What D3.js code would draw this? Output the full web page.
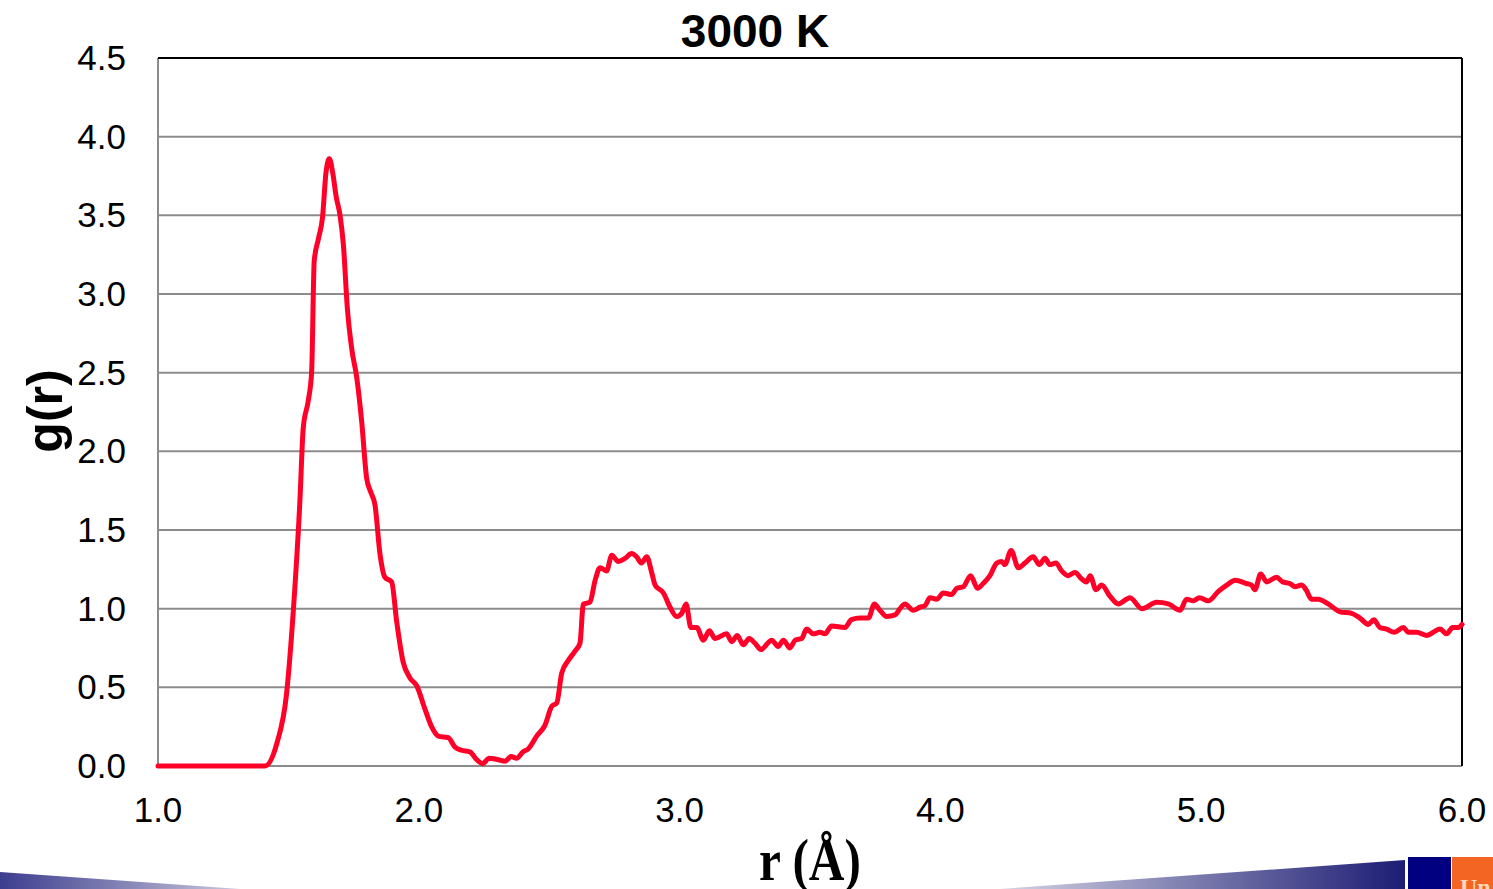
<!DOCTYPE html>
<html>
<head>
  <meta charset="UTF-8">
  <title>g(r) 3000 K</title>
  <script src="https://d3js.org/d3.v7.min.js"></script>
  <style>
    body {
      margin: 0;
      background: #fff;
      font-family: Arial, "Liberation Sans", sans-serif;
    }
    .grid line {
      stroke: #8c8c8c;
      stroke-width: 2;
    }
    .tick-label {
      font-size: 35px;
      fill: #000;
    }
    .curve {
      fill: none;
      stroke: #ff0028;
      stroke-width: 5;
      stroke-linejoin: round;
      stroke-linecap: round;
    }
  </style>
</head>
<body>
  <svg id="chart" width="1493" height="889"></svg>
  <script>
    // r (Å) and g(r)
    const rValues = [
      1.00, 1.41, 1.455, 1.493, 1.519, 1.544, 1.557, 1.576, 1.589, 1.599,
      1.615, 1.631, 1.644, 1.657, 1.670, 1.683, 1.698, 1.711, 1.726, 1.743,
      1.762, 1.781, 1.800, 1.816, 1.832, 1.851, 1.870, 1.896, 1.915, 1.940,
      1.966, 1.992, 2.024, 2.049, 2.075, 2.113, 2.139, 2.164, 2.196, 2.222,
      2.245, 2.270, 2.305, 2.331, 2.354, 2.375, 2.400, 2.420, 2.452, 2.484,
      2.510, 2.529, 2.548, 2.573, 2.599, 2.618, 2.631, 2.656, 2.676, 2.695,
      2.720, 2.740, 2.765, 2.791, 2.816, 2.835, 2.854, 2.874, 2.893, 2.906,
      2.938, 2.963, 2.989, 3.008, 3.025, 3.043, 3.066, 3.091, 3.114, 3.136,
      3.180, 3.200, 3.221, 3.244, 3.267, 3.289, 3.312, 3.353, 3.378, 3.398,
      3.423, 3.443, 3.468, 3.487, 3.513, 3.538, 3.557, 3.583, 3.634, 3.659,
      3.692, 3.724, 3.747, 3.768, 3.794, 3.826, 3.845, 3.864, 3.896, 3.922,
      3.941, 3.960, 3.986, 4.011, 4.043, 4.063, 4.088, 4.116, 4.142, 4.164,
      4.190, 4.216, 4.235, 4.247, 4.271, 4.299, 4.324, 4.356, 4.379, 4.401,
      4.420, 4.443, 4.465, 4.490, 4.516, 4.541, 4.560, 4.574, 4.597, 4.618,
      4.650, 4.682, 4.727, 4.772, 4.829, 4.874, 4.919, 4.944, 4.970, 4.993,
      5.027, 5.066, 5.098, 5.130, 5.174, 5.193, 5.206, 5.228, 5.251, 5.289,
      5.312, 5.340, 5.360, 5.385, 5.402, 5.423, 5.449, 5.487, 5.532, 5.577,
      5.609, 5.641, 5.662, 5.685, 5.711, 5.740, 5.775, 5.794, 5.826, 5.864,
      5.890, 5.916, 5.941, 5.964, 5.986, 6.000
    ];
    const gValues = [
      0.00, 0.00, 0.14, 0.46, 0.99, 1.68, 2.15, 2.32, 2.50, 3.21,
      3.35, 3.49, 3.77, 3.86, 3.77, 3.62, 3.50, 3.31, 2.91, 2.65,
      2.47, 2.19, 1.83, 1.74, 1.66, 1.35, 1.20, 1.17, 0.92, 0.66,
      0.56, 0.51, 0.36, 0.25, 0.19, 0.18, 0.12, 0.10, 0.09, 0.04,
      0.015, 0.05, 0.04, 0.03, 0.06, 0.05, 0.09, 0.11, 0.19, 0.26,
      0.38, 0.40, 0.59, 0.67, 0.73, 0.78, 1.03, 1.04, 1.18, 1.26,
      1.24, 1.34, 1.30, 1.32, 1.35, 1.33, 1.29, 1.33, 1.23, 1.15,
      1.10, 1.01, 0.95, 0.97, 1.03, 0.88, 0.88, 0.80, 0.86, 0.81,
      0.84, 0.79, 0.83, 0.77, 0.81, 0.78, 0.74, 0.80, 0.76, 0.80,
      0.75, 0.80, 0.81, 0.87, 0.84, 0.85, 0.84, 0.89, 0.88, 0.93,
      0.94, 0.94, 1.03, 0.99, 0.95, 0.96, 1.00, 1.03, 0.99, 1.01,
      1.02, 1.07, 1.06, 1.10, 1.09, 1.13, 1.14, 1.21, 1.13, 1.16,
      1.21, 1.29, 1.30, 1.28, 1.37, 1.26, 1.29, 1.33, 1.28, 1.32,
      1.28, 1.29, 1.24, 1.21, 1.23, 1.19, 1.17, 1.21, 1.12, 1.15,
      1.08, 1.03, 1.07, 1.00, 1.04, 1.03, 0.99, 1.06, 1.05, 1.07,
      1.05, 1.11, 1.15, 1.18, 1.16, 1.15, 1.12, 1.22, 1.17, 1.20,
      1.17, 1.16, 1.14, 1.15, 1.12, 1.06, 1.06, 1.03, 0.98, 0.97,
      0.94, 0.90, 0.93, 0.88, 0.87, 0.85, 0.88, 0.85, 0.85, 0.83,
      0.85, 0.87, 0.84, 0.88, 0.88, 0.90
    ];
    const xTicks = [1, 2, 3, 4, 5, 6];
    const yTicks = [0, 0.5, 1, 1.5, 2, 2.5, 3, 3.5, 4, 4.5];

    const data = rValues.map((r, i) => ({ r: r, g: gValues[i] }));

    const margin = { top: 58, right: 31, bottom: 123, left: 158 };
    const width = 1493 - margin.left - margin.right;
    const height = 889 - margin.top - margin.bottom;

    const svg = d3.select("#chart");

    // bottom slide decoration
    const defs = svg.append("defs");
    const gradL = defs.append("linearGradient").attr("id", "gradL");
    gradL.append("stop").attr("offset", "0%").attr("stop-color", "#3d3d8f");
    gradL.append("stop").attr("offset", "100%").attr("stop-color", "#c8c8dc");
    const gradR = defs.append("linearGradient").attr("id", "gradR");
    gradR.append("stop").attr("offset", "0%").attr("stop-color", "#d4d4e4");
    gradR.append("stop").attr("offset", "100%").attr("stop-color", "#1c1c74");

    svg.append("polygon")
      .attr("points", "0,872 240,889 0,889")
      .attr("fill", "url(#gradL)");
    svg.append("polygon")
      .attr("points", "1000,889 1405,860 1405,889")
      .attr("fill", "url(#gradR)");
    svg.append("rect")
      .attr("x", 1408).attr("y", 857).attr("width", 43).attr("height", 32)
      .attr("fill", "#000080");
    svg.append("rect")
      .attr("x", 1452).attr("y", 857).attr("width", 41).attr("height", 32)
      .attr("fill", "#f26522");
    svg.append("text")
      .attr("x", 1460).attr("y", 895)
      .attr("font-family", "Liberation Serif, serif")
      .attr("font-weight", "bold")
      .attr("font-size", 24)
      .attr("fill", "#ffd8c0")
      .text("Un");

    const g = svg.append("g")
      .attr("transform", `translate(${margin.left}, ${margin.top})`);

    const x = d3.scaleLinear().domain([1, 6]).range([0, width]);
    const y = d3.scaleLinear().domain([0, 4.5]).range([height, 0]);

    // grid lines
    g.append("g")
      .attr("class", "grid")
      .selectAll("line")
      .data(yTicks.slice(1, -1))
      .enter()
      .append("line")
      .attr("x1", 0)
      .attr("x2", width)
      .attr("y1", d => y(d))
      .attr("y2", d => y(d));

    // frame: left/bottom gray, top/right black
    g.append("line")
      .attr("x1", 0).attr("x2", 0).attr("y1", 0).attr("y2", height)
      .attr("stroke", "#8c8c8c").attr("stroke-width", 2);
    g.append("line")
      .attr("x1", 0).attr("x2", width).attr("y1", height).attr("y2", height)
      .attr("stroke", "#8c8c8c").attr("stroke-width", 2);
    g.append("line")
      .attr("x1", 0).attr("x2", width).attr("y1", 0).attr("y2", 0)
      .attr("stroke", "#000").attr("stroke-width", 2);
    g.append("line")
      .attr("x1", width).attr("x2", width).attr("y1", 0).attr("y2", height)
      .attr("stroke", "#000").attr("stroke-width", 2);

    // tick labels
    g.selectAll(".ytick")
      .data(yTicks)
      .enter()
      .append("text")
      .attr("class", "tick-label")
      .attr("x", -32)
      .attr("y", d => y(d) + 12)
      .attr("text-anchor", "end")
      .text(d => d.toFixed(1));

    g.selectAll(".xtick")
      .data(xTicks)
      .enter()
      .append("text")
      .attr("class", "tick-label")
      .attr("x", d => x(d))
      .attr("y", height + 56)
      .attr("text-anchor", "middle")
      .text(d => d.toFixed(1));

    // curve
    const line = d3.line()
      .x(d => x(d.r))
      .y(d => y(d.g))
      .curve(d3.curveMonotoneX);

    g.append("path")
      .datum(data)
      .attr("class", "curve")
      .attr("d", line);

    // title and axis labels
    svg.append("text")
      .attr("x", 755)
      .attr("y", 47)
      .attr("text-anchor", "middle")
      .attr("font-size", 46)
      .attr("font-weight", "bold")
      .text("3000 K");

    svg.append("text")
      .attr("transform", "translate(62, 411) rotate(-90)")
      .attr("text-anchor", "middle")
      .attr("font-size", 50)
      .attr("font-weight", "bold")
      .text("g(r)");

    svg.append("text")
      .attr("transform", "translate(810, 880) scale(0.95, 1.15)")
      .attr("text-anchor", "middle")
      .attr("font-family", "Liberation Serif, 'Times New Roman', serif")
      .attr("font-size", 52)
      .attr("font-weight", "bold")
      .text("r (Å)");
  </script>
</body>
</html>
